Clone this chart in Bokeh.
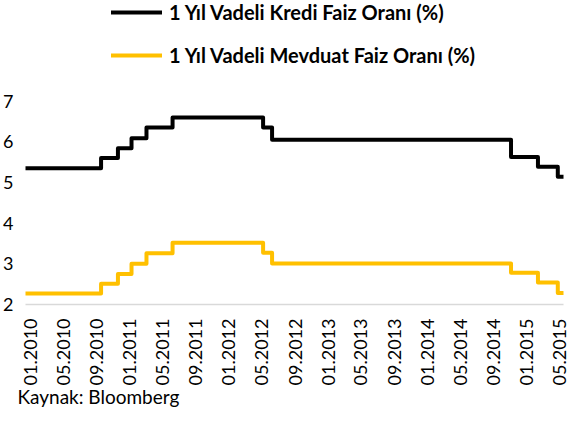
import math
import pandas as pd
from bokeh.plotting import figure
from bokeh.models import (Range1d, FixedTicker, Legend, LegendItem, Title,
                          DatetimeTickFormatter, ColumnDataSource)
from bokeh.embed import file_html
from bokeh.resources import INLINE

# ---- data ----
dates = ["2009-12-14", "2010-09-18", "2010-11-19", "2011-01-08", "2011-03-04",
         "2011-06-08", "2012-05-06", "2012-06-08", "2014-11-04", "2015-02-11",
         "2015-04-25", "2015-05-16"]
kredi = [5.35, 5.60, 5.84, 6.09, 6.35, 6.60, 6.35, 6.05, 5.63, 5.39, 5.14, 5.14]
mevduat = [2.27, 2.51, 2.75, 3.00, 3.26, 3.52, 3.27, 3.01, 2.78, 2.54, 2.28, 2.28]

tick_dates = ["2010-01-01", "2010-05-01", "2010-09-01", "2011-01-01", "2011-05-01",
              "2011-09-01", "2012-01-01", "2012-05-01", "2012-09-01", "2013-01-01",
              "2013-05-01", "2013-09-01", "2014-01-01", "2014-05-01", "2014-09-01",
              "2015-01-01", "2015-05-01"]
tick_labels = ["01.2010", "05.2010", "09.2010", "01.2011", "05.2011", "09.2011",
               "01.2012", "05.2012", "09.2012", "01.2013", "05.2013", "09.2013",
               "01.2014", "05.2014", "09.2014", "01.2015", "05.2015"]
y_ticks = [2, 3, 4, 5, 6, 7]
series_names = ["1 Yıl Vadeli Kredi Faiz Oranı (%)", "1 Yıl Vadeli Mevduat Faiz Oranı (%)"]
source_note = "Kaynak: Bloomberg"

BLACK = "#000000"
GOLD = "#FFC000"
FONT = "Lato"

FRAME_H = 302          # frame runs from canvas top to the axis line
PX_PER_UNIT = 40.4     # vertical scale
Y_TOP = 2 + FRAME_H / PX_PER_UNIT   # headroom above 7 holds the legend

dt = pd.to_datetime(dates)
src = ColumnDataSource(dict(x=dt, kredi=kredi, mevduat=mevduat))
tick_ms = [int(pd.Timestamp(d).value // 10**6) for d in tick_dates]

p = figure(width=569, height=409, x_axis_type="datetime",
           x_range=Range1d(dt[0], dt[-1]), y_range=Range1d(2, Y_TOP),
           output_backend="svg", toolbar_location=None,
           min_border_left=22, min_border_right=6,
           min_border_top=0, min_border_bottom=105)
p.outline_line_color = None
p.xgrid.visible = False
p.ygrid.visible = False
p.background_fill_color = "white"
p.border_fill_color = "white"

r1 = p.step("x", "kredi", source=src, mode="after", line_color=BLACK,
            line_width=4, line_join="round", line_cap="round")
r2 = p.step("x", "mevduat", source=src, mode="after", line_color=GOLD,
            line_width=4, line_join="round", line_cap="round")

# x axis
xa = p.xaxis[0]
xa.ticker = FixedTicker(ticks=tick_ms)
fmt = "%m.%Y"
xa.formatter = DatetimeTickFormatter(microseconds=fmt, milliseconds=fmt, seconds=fmt,
                                     minsec=fmt, minutes=fmt, hourmin=fmt, hours=fmt,
                                     days=fmt, months=fmt, years=fmt)
xa.major_label_overrides = {t: l for t, l in zip(tick_ms, tick_labels)}
xa.major_label_orientation = math.pi / 2
xa.major_tick_line_color = None
xa.minor_tick_line_color = None
xa.major_tick_out = 0
xa.major_tick_in = 0
xa.minor_tick_out = 0
xa.minor_tick_in = 0
xa.axis_line_color = "#D9D9D9"
xa.axis_line_width = 1.5
xa.major_label_standoff = 14
xa.major_label_text_font = FONT
xa.major_label_text_font_size = "18px"
xa.major_label_text_color = BLACK

# y axis
ya = p.yaxis[0]
ya.ticker = FixedTicker(ticks=y_ticks)
ya.axis_line_color = None
ya.major_tick_line_color = None
ya.minor_tick_line_color = None
ya.major_tick_out = 0
ya.major_tick_in = 0
ya.minor_tick_out = 0
ya.minor_tick_in = 0
ya.major_label_standoff = 12
ya.major_label_text_font = FONT
ya.major_label_text_font_size = "18px"
ya.major_label_text_color = BLACK

# source note under the axis, left aligned
note = Title(text=source_note, align="left", offset=-8, standoff=-12,
             text_font=FONT, text_font_size="19px", text_font_style="normal",
             text_color=BLACK)
p.add_layout(note, "below")

legend = Legend(items=[LegendItem(label=series_names[0], renderers=[r1]),
                       LegendItem(label=series_names[1], renderers=[r2])],
                location=(86, 237), orientation="vertical",
                padding=0, margin=0, spacing=19,
                glyph_width=51, glyph_height=18, label_height=18,
                label_standoff=7, border_line_color=None,
                background_fill_alpha=0,
                label_text_font=FONT, label_text_font_style="bold",
                label_text_font_size="20px", label_text_color=BLACK)
p.add_layout(legend, "center")

open("out.html", "w").write(file_html(p, INLINE))
